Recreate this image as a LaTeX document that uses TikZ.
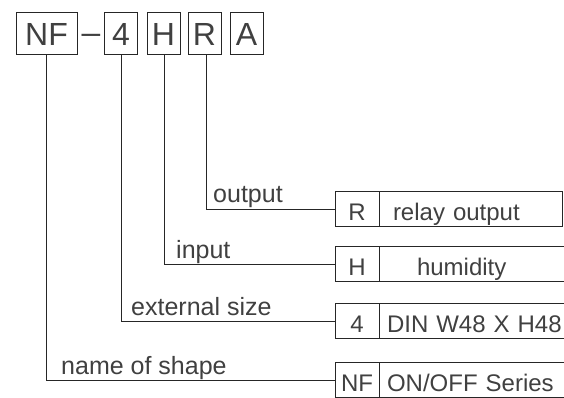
\documentclass[tikz,border=0pt]{standalone}
\usepackage{fontspec}
\setmainfont{Liberation Sans}
\usetikzlibrary{positioning}
\tikzset{
    line width=2.1pt,
    code box/.style={draw=black!85, text=black!75, outer sep=0pt, inner xsep=0pt,
        inner ysep=1pt, text height=32pt, text depth=8pt, font=\fontsize{32}{36}\selectfont},
    key box/.style={draw=black!85, text=black!75, outer sep=0pt, minimum width=44pt,
        inner xsep=0pt, inner ysep=2.5pt, text height=26pt, text depth=4pt,
        font=\fontsize{24}{28}\selectfont},
    desc box/.style={key box, align=left},
    tag/.style={text=black!75, inner sep=0pt, anchor=base west, font=\fontsize{25}{28}\selectfont}
}

\begin{document}
\begin{tikzpicture}[x=1pt,y=-1pt]
    \useasboundingbox (0,0) rectangle (564,397);

    % model code
    \node[code box, minimum width=61pt] (nf) at (46.5,33) {NF};
    \node[text=black!75, inner sep=0pt, xscale=1.05, font=\fontsize{32}{36}\selectfont] (dash) at (91,39) {–};
    \node[code box, minimum width=33pt] (size) at (121,33) {4};
    \node[code box, minimum width=33pt] (inp) at (163.5,33) {H};
    \node[code box, minimum width=33pt] (outp) at (204.5,33) {R};
    \node[code box, minimum width=33pt] (extra) at (246.5,33) {A};

    % meaning of each letter
    \node[key box] (outkey) at (357,209) {R};
    \node[desc box, right=0pt of outkey, inner xsep=14pt, text width=155pt] (outdesc) {relay output};
    \node[key box] (inkey) at (357,264) {H};
    \node[desc box, right=0pt of inkey, inner xsep=38pt, text width=124pt] (indesc) {humidity};
    \node[key box] (sizekey) at (357,321) {4};
    \node[desc box, right=0pt of sizekey, inner xsep=8pt, text width=184pt] (sizedesc) {DIN W48 X H48};
    \node[key box] (nfkey) at (357,380) {NF};
    \node[desc box, right=0pt of nfkey, inner xsep=8pt, text width=184pt] (nfdesc) {ON/OFF Series};

    \node[tag] (outtag) at (213,202) {output};
    \node[tag] (intag) at (176,258) {input};
    \node[tag] (sizetag) at (131,315) {external size};
    \node[tag] (nftag) at (61,374) {name of shape};

    \draw[black!85] ([xshift=1.5pt]outp.south) |- (outkey.west);
    \draw[black!85] ([xshift=1pt]inp.south) |- (inkey.west);
    \draw[black!85] (size.south) |- (sizekey.west);
    \draw[black!85] (nf.south) |- (nfkey.west);

\end{tikzpicture}
\end{document}
